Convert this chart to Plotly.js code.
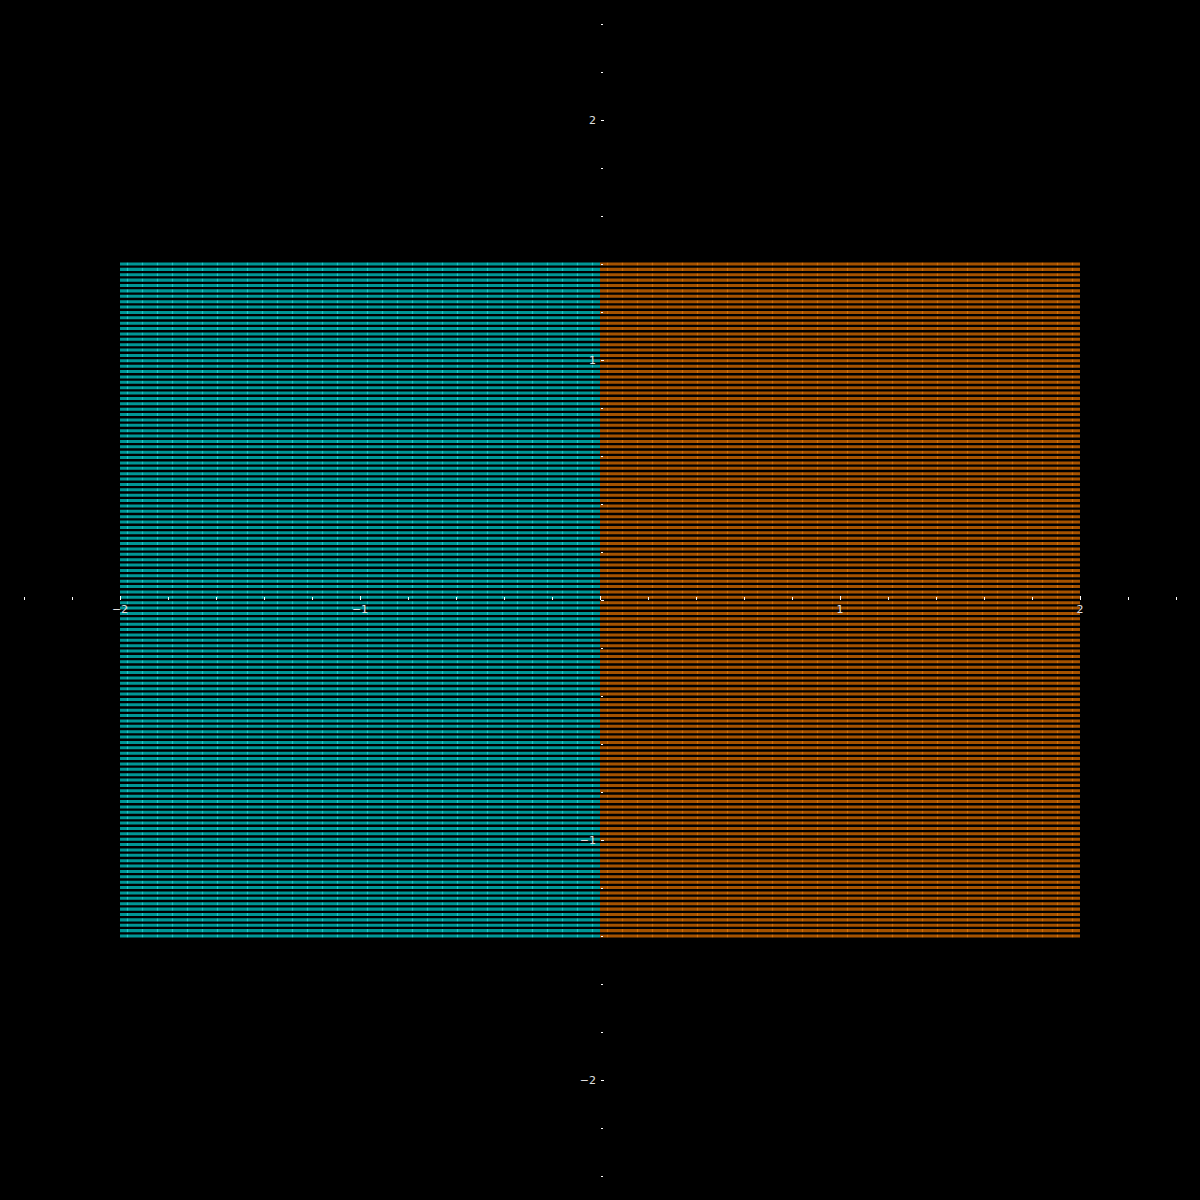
<!DOCTYPE html>
<html>
<head>
<meta charset="utf-8">
<script src="https://cdn.plot.ly/plotly-3.0.1.min.js"></script>
<style>html,body{margin:0;padding:0;background:#000;}#chart{width:1200px;height:1200px;}</style>
</head>
<body>
<div id="chart"></div>
<script>
// Bar row positions (y)
const rowPositions = [
  -1.4000, -1.3776, -1.3552, -1.3328, -1.3104, -1.2880, -1.2656, -1.2432, -1.2208, -1.1984,
  -1.1760, -1.1536, -1.1312, -1.1088, -1.0864, -1.0640, -1.0416, -1.0192, -0.9968, -0.9744,
  -0.9520, -0.9296, -0.9072, -0.8848, -0.8624, -0.8400, -0.8176, -0.7952, -0.7728, -0.7504,
  -0.7280, -0.7056, -0.6832, -0.6608, -0.6384, -0.6160, -0.5936, -0.5712, -0.5488, -0.5264,
  -0.5040, -0.4816, -0.4592, -0.4368, -0.4144, -0.3920, -0.3696, -0.3472, -0.3248, -0.3024,
  -0.2800, -0.2576, -0.2352, -0.2128, -0.1904, -0.1680, -0.1456, -0.1232, -0.1008, -0.0784,
  -0.0560, -0.0336, -0.0112,
   0.0112,  0.0336,  0.0560,  0.0784,  0.1008,  0.1232,  0.1456,  0.1680,  0.1904,  0.2128,
   0.2352,  0.2576,  0.2800,  0.3024,  0.3248,  0.3472,  0.3696,  0.3920,  0.4144,  0.4368,
   0.4592,  0.4816,  0.5040,  0.5264,  0.5488,  0.5712,  0.5936,  0.6160,  0.6384,  0.6608,
   0.6832,  0.7056,  0.7280,  0.7504,  0.7728,  0.7952,  0.8176,  0.8400,  0.8624,  0.8848,
   0.9072,  0.9296,  0.9520,  0.9744,  0.9968,  1.0192,  1.0416,  1.0640,  1.0864,  1.1088,
   1.1312,  1.1536,  1.1760,  1.1984,  1.2208,  1.2432,  1.2656,  1.2880,  1.3104,  1.3328,
   1.3552,  1.3776,  1.4000
];
// Bar lengths: left series (cyan) all -2, right series (orange) all 2
const leftValues = rowPositions.map(() => -2);
const rightValues = rowPositions.map(() => 2);

// Tick labels
const majorTickVals = [-2, -1, 0, 1, 2];
const majorTickText = ['\u22122', '\u22121', '', '1', '2'];
const minorTickVals = [-2.4, -2.2, -1.8, -1.6, -1.4, -1.2, -0.8, -0.6, -0.4, -0.2,
                       0.2, 0.4, 0.6, 0.8, 1.2, 1.4, 1.6, 1.8, 2.2, 2.4];

const traces = [
  {
    type: 'bar', orientation: 'h',
    x: leftValues, y: rowPositions,
    marker: {
      color: 'rgb(0,150,150)',
      line: {width: 0},
      pattern: {shape: '|', size: 15, solidity: 0.08, fgcolor: 'rgb(30,200,200)', bgcolor: 'rgb(0,150,150)', fillmode: 'replace'}
    },
    hoverinfo: 'skip', showlegend: false
  },
  {
    type: 'bar', orientation: 'h',
    x: rightValues, y: rowPositions,
    marker: {
      color: 'rgb(165,82,0)',
      line: {width: 0},
      pattern: {shape: '|', size: 15, solidity: 0.08, fgcolor: 'rgb(210,110,10)', bgcolor: 'rgb(165,82,0)', fillmode: 'replace'}
    },
    hoverinfo: 'skip', showlegend: false
  }
];

const tickFont = {family: 'DejaVu Sans, sans-serif', size: 11, color: '#e0e0e0'};

const layout = {
  width: 1200, height: 1200,
  margin: {l: 0, r: 0, t: 0, b: 0, pad: 0},
  paper_bgcolor: '#000', plot_bgcolor: '#000',
  barmode: 'overlay', bargap: 0.44,
  showlegend: false,
  xaxis: {
    range: [-2.5, 2.5], anchor: 'free', position: 0.5,
    showgrid: false, zeroline: false, showline: false,
    tickmode: 'array', tickvals: majorTickVals, ticktext: majorTickText,
    ticks: 'inside', ticklen: 4, tickwidth: 1, tickcolor: '#ffffff',
    tickfont: tickFont, ticklabelstandoff: 1,
    minor: {tickmode: 'array', tickvals: minorTickVals, ticks: 'inside', ticklen: 3, tickwidth: 1, tickcolor: '#ffffff', showgrid: false},
    layer: 'above traces', fixedrange: true
  },
  yaxis: {
    range: [-2.5, 2.5], anchor: 'free', position: 0.5,
    showgrid: false, zeroline: false, showline: false,
    tickmode: 'array', tickvals: majorTickVals, ticktext: majorTickText,
    ticks: 'inside', ticklen: 3, tickwidth: 1, tickcolor: '#ffffff',
    tickfont: tickFont, ticklabelstandoff: 4,
    minor: {tickmode: 'array', tickvals: minorTickVals, ticks: 'inside', ticklen: 2, tickwidth: 1, tickcolor: '#ffffff', showgrid: false},
    layer: 'above traces', fixedrange: true
  }
};

Plotly.newPlot('chart', traces, layout, {staticPlot: true, displayModeBar: false});
</script>
</body>
</html>
